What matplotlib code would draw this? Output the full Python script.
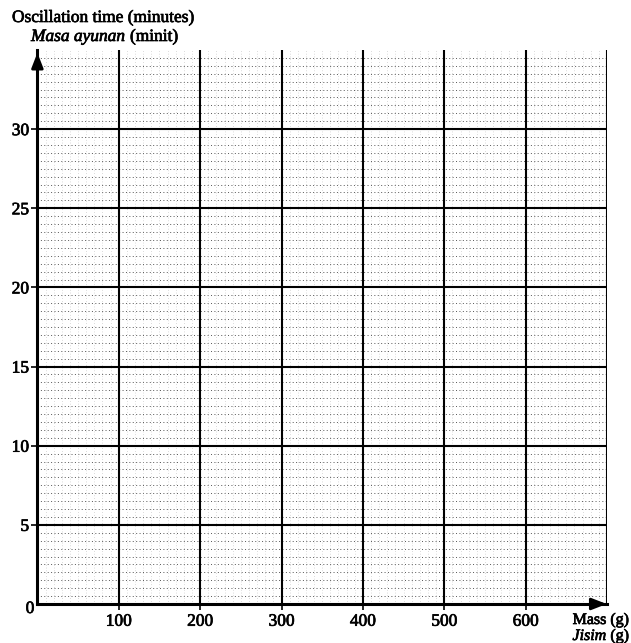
import matplotlib
matplotlib.use("Agg")
import matplotlib.pyplot as plt
import matplotlib.patheffects as pe
import numpy as np

x_ticks = [100, 200, 300, 400, 500, 600]
y_ticks = [5, 10, 15, 20, 25, 30]
x_max = 700
y_max = 35
x_minor_step = 10
y_minor_step = 0.5
y_title = "Oscillation time (minutes)"
y_title_ms_italic = "Masa ayunan"
y_title_ms_rest = " (minit)"
x_title = "Mass (g)"
x_title_ms_italic = "Jisim"
x_title_ms_rest = " (g)"

plt.rcParams['font.family'] = ['Liberation Serif', 'DejaVu Serif']
thick = [pe.withStroke(linewidth=0.5, foreground='black')]

fig = plt.figure(figsize=(6.31, 6.43), dpi=100)
ax = fig.add_axes([37.4/631, 39/643, (607-37.4)/631, 554/643])
ax.set_xlim(0, x_max)
ax.set_ylim(0, y_max)

# minor grid (graph paper texture)
for yv in np.arange(y_minor_step, y_max, y_minor_step):
    ax.axhline(yv, color='#555555', lw=0.7, ls=(0, (1, 2.5)), zorder=1)
for xv in np.arange(x_minor_step, x_max, x_minor_step):
    ax.axvline(xv, color='#bbbbbb', lw=0.5, ls=(0, (1, 3)), zorder=1)

# major grid
for yv in y_ticks:
    ax.axhline(yv, color='black', lw=1.5, zorder=2)
for xv in x_ticks:
    ax.axvline(xv, color='black', lw=1.5, zorder=2)
ax.axvline(x_max, color='black', lw=1.5, zorder=2)

for s in ['top', 'right']:
    ax.spines[s].set_visible(False)
for s in ['left', 'bottom']:
    ax.spines[s].set_linewidth(2.2)
    ax.spines[s].set_zorder(3)

ax.set_xticks(x_ticks)
ax.set_yticks(y_ticks)
ax.tick_params(axis='both', direction='out', length=4, width=1.2, labelsize=12.5, pad=3)
ax.tick_params(axis='y', pad=2)
for lab in ax.get_xticklabels() + ax.get_yticklabels():
    lab.set_path_effects(thick)

# arrows
ax.annotate('', xy=(0, y_max), xytext=(0, y_max - 1.2),
            arrowprops=dict(arrowstyle='-|>,head_width=0.35,head_length=0.9', color='black', lw=2),
            annotation_clip=False)
ax.annotate('', xy=(x_max + 3, 0), xytext=(x_max - 20, 0),
            arrowprops=dict(arrowstyle='-|>,head_width=0.35,head_length=0.9', color='black', lw=2),
            annotation_clip=False)

# origin label
fig.text(30/631, 1 - 609/643, '0', fontsize=12.5, ha='center', va='center', path_effects=thick)

# titles
fs = 12.5
fig.text(12/631, 1 - 18/643, y_title, fontsize=fs, ha='left', va='center', path_effects=thick)
t1 = fig.text(31/631, 1 - 37/643, y_title_ms_italic, fontsize=fs, style='italic', ha='left', va='center', path_effects=thick)
fig.canvas.draw()
bb = t1.get_window_extent()
fig.text(bb.x1/631, 1 - 37/643, y_title_ms_rest, fontsize=fs, ha='left', va='center', path_effects=thick)

fs2 = 11.5
fig.text(629/631, 1 - 620/643, x_title, fontsize=fs2, ha='right', va='center', path_effects=thick)
t2 = fig.text(629/631, 1 - 636/643, x_title_ms_rest, fontsize=fs2, ha='right', va='center', path_effects=thick)
fig.canvas.draw()
bb2 = t2.get_window_extent()
fig.text(bb2.x0/631, 1 - 636/643, x_title_ms_italic, fontsize=fs2, style='italic', ha='right', va='center', path_effects=thick)

fig.savefig('out.png', dpi=100)
